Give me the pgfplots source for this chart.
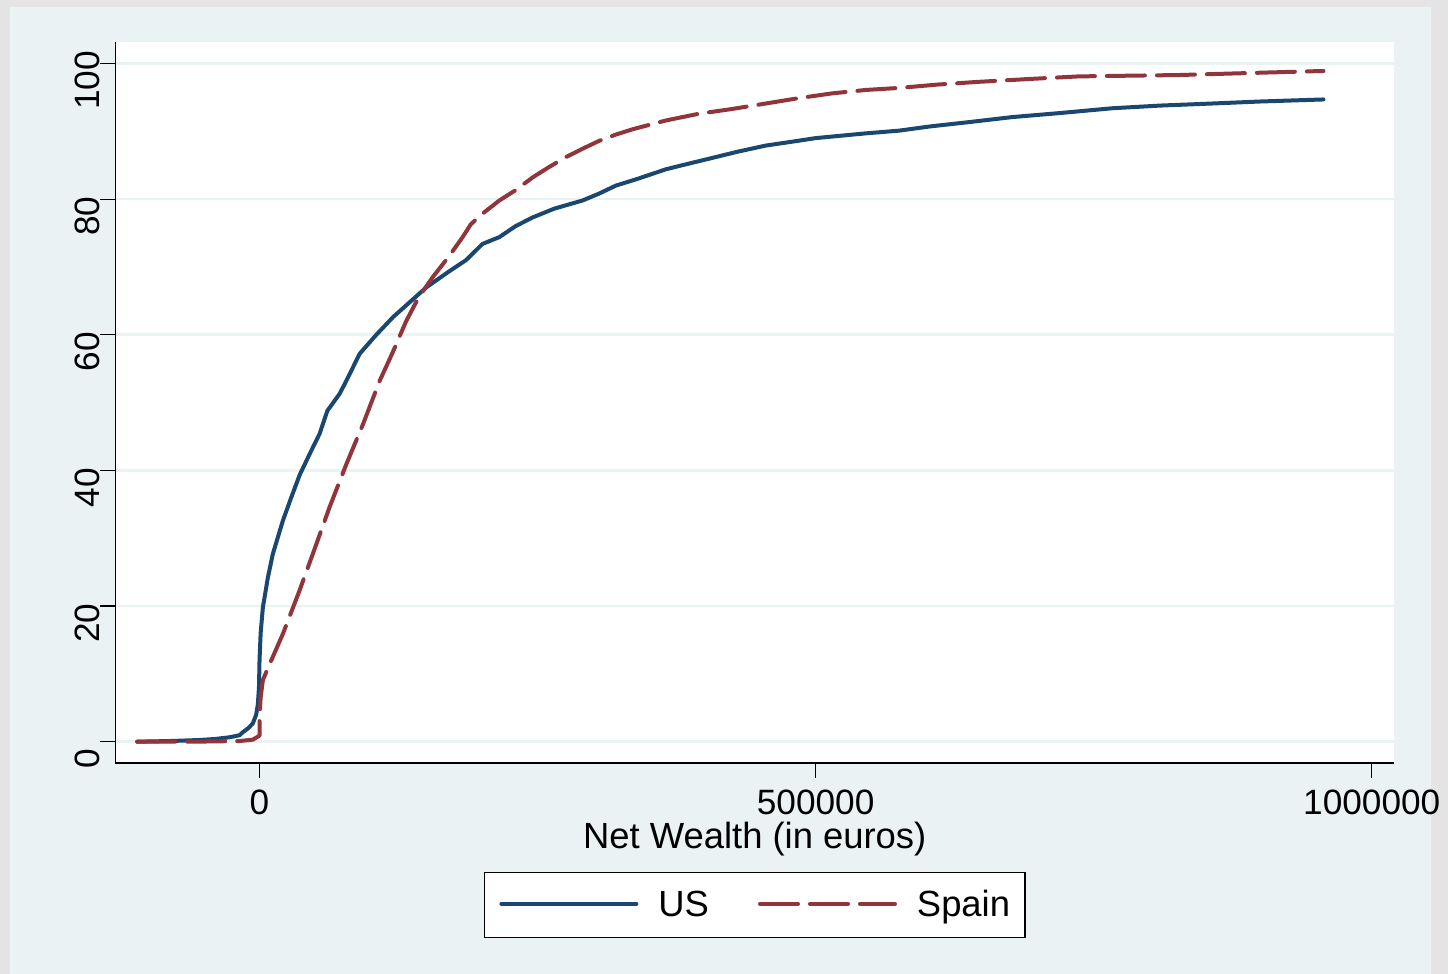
\documentclass[border=0pt]{standalone}
\usepackage{fontspec}
\setmainfont{Liberation Sans}
\usepackage{pgfplots}
\pgfplotsset{compat=1.18}
\definecolor{usblue}{HTML}{1A476F}
\definecolor{spred}{HTML}{90353B}
\definecolor{bgblue}{HTML}{EAF2F3}
\definecolor{outgray}{HTML}{E4E4E4}
\newcommand{\chartfont}{\fontsize{17.6}{21}\selectfont}
\newcommand{\labelfont}{\fontsize{18.2}{22}\selectfont}
\begin{document}
\begin{tikzpicture}
\fill[outgray] (0,0) rectangle (724pt,487pt);
\fill[bgblue] (5pt,0) rectangle (715.5pt,483.5pt);
\begin{axis}[
  at={(57.75pt,105.5pt)}, anchor=south west,
  scale only axis, width=639.25pt, height=360.25pt,
  xmin=-129500, xmax=1020000, ymin=-3.14, ymax=103.1,
  scaled x ticks=false, scaled y ticks=false,
  axis x line*=bottom, axis y line*=left,
  axis line style={black, line width=0.65pt},
  axis background/.style={fill=white},
  tick align=outside, major tick length=7.5pt,
  tick style={black, line width=0.6pt},
  xtick={0,500000,1000000}, xticklabels={0,500000,1000000},
  ytick={0,20,40,60,80,100}, yticklabels={0,20,40,60,80,100},
  ymajorgrids, grid style={bgblue, line width=1.3pt},
  tick label style={font=\chartfont},
  xticklabel style={anchor=north, inner sep=0pt, yshift=-6pt},
  yticklabel style={rotate=90, anchor=south, inner sep=0pt, xshift=-8.5pt},
  xlabel={Net Wealth (in euros)},
  xlabel style={font=\labelfont, at={(axis description cs:0.5,0)}, anchor=base, yshift=-43pt},
  legend columns=2,
  legend image code/.code={\draw[#1] (0pt,6.4pt) -- (67.5pt,6.4pt);},
  legend style={at={(axis description cs:0.5,-0.1513)}, anchor=north,
    draw=black, line width=0.65pt, fill=white, font=\labelfont,
    inner xsep=7.5pt, inner ysep=8.8pt,
    nodes={inner sep=0pt, anchor=base west},
    /tikz/every odd column/.append style={column sep=10pt},
    /tikz/every even column/.append style={column sep=24.5pt}},
]
\addplot[usblue, line width=2pt, line join=round, line cap=round] coordinates {
(-110000,0) (-80000,0.1) (-54000,0.25) (-40000,0.4) (-27000,0.65) (-18000,0.95)
(-15000,1.4) (-10000,2.0) (-6000,2.7) (-3000,4.0) (-1500,5.5) (-500,8) (0,12)
(1000,16) (3000,19.8) (7500,24.2) (12000,27.7) (21000,32.6) (28500,36) (36000,39.3)
(45000,42.4) (54000,45.4) (61000,48.8) (72000,51.3) (78000,53.2) (90000,57.2)
(105000,60) (120000,62.6) (135000,64.8) (150000,67) (170000,69.3) (185600,71)
(200500,73.4) (215600,74.4) (230000,76) (245500,77.3) (265000,78.6) (290400,79.8)
(305000,80.8) (320400,82) (340000,83) (365300,84.4) (385000,85.2) (410000,86.2)
(430000,87) (455100,87.9) (480000,88.5) (500000,89) (545000,89.7) (575000,90.1)
(601800,90.7) (640000,91.4) (676700,92.1) (720000,92.7) (766500,93.4) (810000,93.8)
(856300,94.1) (900000,94.4) (956600,94.7)
};
\addlegendentry{US}
\addplot[spred, line width=2pt, line join=round, line cap=round, dash pattern=on 19pt off 6pt] coordinates {
(-110000,0) (-60000,0) (-18000,0.1) (-6000,0.3) (-3000,0.6) (-1000,0.8) (0,0.9)
(0,3.7) (1000,6.5) (3000,9.1) (9000,11.4) (21000,15.9) (36000,22.3) (51000,29.1)
(63000,34.6) (78000,40.9) (93000,46.8) (108000,53.2) (120000,57.5) (131800,62)
(143000,65.5) (155700,68.5) (170000,71.5) (182600,74.4) (190000,76.3) (200000,77.8)
(215600,79.8) (230000,81.3) (245500,83.2) (260000,84.7) (275500,86.2) (290000,87.4)
(305400,88.6) (320000,89.5) (335300,90.3) (365300,91.6) (395200,92.6) (425100,93.3)
(455100,94.1) (485000,94.9) (515000,95.6) (545000,96.1) (575000,96.4) (610000,96.9)
(646700,97.3) (690000,97.7) (736500,98.1) (780000,98.2) (826400,98.3) (890000,98.6)
(956600,98.9)
};
\addlegendentry{Spain}
\end{axis}
\pgfresetboundingbox
\path[use as bounding box] (0,0) rectangle (724pt,487pt);
\end{tikzpicture}
\end{document}
